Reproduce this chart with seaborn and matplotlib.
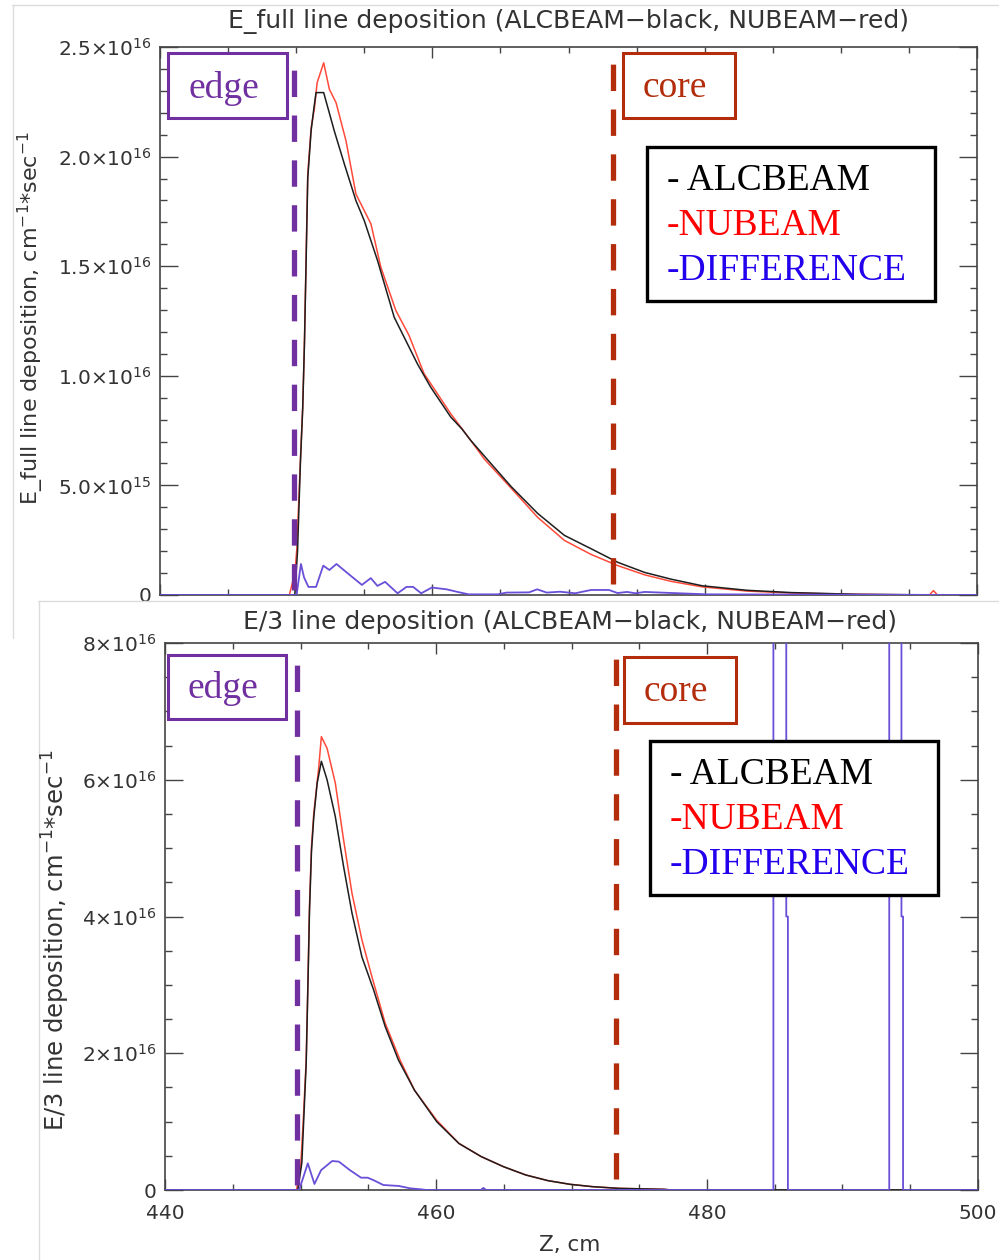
import numpy as np
import pandas as pd
import matplotlib
matplotlib.use("Agg")
import matplotlib.pyplot as plt
import seaborn as sns
from matplotlib import ticker
from matplotlib.patches import Rectangle
from matplotlib.lines import Line2D

# ---------------- data (values in units of 1e16 cm^-1 s^-1) ----------------
# Top panel: E_full
full_alc_z = [440, 449.9, 450.1, 450.31, 450.48, 450.61, 450.73, 450.85, 451.1, 451.3, 451.46,
              452.02, 452.8, 453.54, 454.39, 455.0, 455.98, 457.2, 458.9, 459.88, 461.35, 462.18,
              462.81, 463.82, 465.78, 467.74, 469.7, 471.66, 473.62, 475.59, 477.55, 479.83,
              483.1, 486.37, 491.27, 497.8]
full_alc_v = [0, 0, 0.2, 0.6, 0.85, 1.15, 1.52, 1.9, 2.12, 2.22, 2.292,
              2.292, 2.117, 1.966, 1.799, 1.708, 1.525, 1.267, 1.055, 0.948, 0.812, 0.757,
              0.706, 0.634, 0.495, 0.372, 0.272, 0.211, 0.149, 0.103, 0.072, 0.042,
              0.0215, 0.011, 0.003, 0.0]

full_nub_z = [440, 449.5, 449.9, 450.05, 450.31, 450.48, 450.61, 450.73, 450.85, 451.1, 451.34,
              451.54, 452.02, 452.44, 452.93, 453.66, 454.39, 455.49, 456.22, 457.32, 458.29,
              459.39, 461.35, 462.81, 463.82, 465.78, 467.74, 469.7, 471.66, 473.62, 475.59,
              477.55, 479.83, 483.1, 486.37, 491.27, 496.5, 496.8, 497.1, 497.8]
full_nub_v = [0, 0, 0.1, 0.21, 0.615, 0.857, 1.161, 1.54, 1.92, 2.13, 2.22,
              2.337, 2.428, 2.307, 2.246, 2.072, 1.829, 1.693, 1.495, 1.298, 1.184,
              1.01, 0.827, 0.706, 0.62, 0.488, 0.354, 0.249, 0.185, 0.134, 0.092,
              0.062, 0.037, 0.018, 0.009, 0.003, 0.0, 0.02, 0.0, 0.0]

full_dif_z = [440, 450.03, 450.35, 450.58, 450.9, 451.46, 451.99, 452.44, 452.96, 454.0, 454.83,
              455.48, 455.97, 456.53, 457.45, 458.1, 458.59, 459.18, 459.96, 461.04, 461.86,
              462.67, 464.8, 465.45, 467.1, 467.7, 468.4, 469.37, 470.5, 471.66, 472.97,
              473.6, 474.3, 474.9, 475.6, 476.8, 480.2, 500]
full_dif_v = [0, 0, 0.1415, 0.08, 0.037, 0.037, 0.134, 0.114, 0.1415, 0.088, 0.046,
              0.077, 0.0415, 0.06, 0.0077, 0.037, 0.037, 0.0077, 0.034, 0.026, 0.014,
              0.003, 0.003, 0.011, 0.012, 0.026, 0.011, 0.015, 0.008, 0.023, 0.023,
              0.009, 0.014, 0.008, 0.014, 0.011, 0.003, 0.0]

# Bottom panel: E/3
third_alc_z = [440, 449.8, 450.1, 450.42, 450.56, 450.66, 450.81, 450.98, 451.23, 451.54, 451.96,
               452.57, 453.18, 453.8, 454.53, 455.39, 456.25, 457.23, 458.41, 460.05, 461.69,
               463.34, 464.98, 466.62, 468.26, 469.9, 471.54, 473.5, 476.8, 477.4, 500]
third_alc_v = [0, 0, 0.4, 1.85, 3.1, 4.05, 4.95, 5.45, 5.95, 6.27, 6.0,
               5.46, 4.73, 4.05, 3.41, 2.93, 2.39, 1.90, 1.46, 1.0, 0.68,
               0.488, 0.341, 0.22, 0.137, 0.083, 0.049, 0.024, 0.01, 0.0, 0.0]

third_nub_z = [440, 449.7, 450.0, 450.2, 450.42, 450.56, 450.66, 450.81, 450.98, 451.35, 451.54,
               451.96, 452.57, 453.18, 453.8, 454.53, 455.27, 456.25, 457.35, 458.41, 460.05,
               461.69, 463.34, 464.98, 466.62, 468.26, 469.9, 471.54, 473.5, 476.8, 477.4]
third_nub_v = [0, 0, 0.3, 1.0, 1.90, 3.17, 4.14, 5.02, 5.51, 6.19, 6.63,
               6.46, 5.95, 5.12, 4.34, 3.66, 3.12, 2.44, 1.90, 1.46, 1.02,
               0.683, 0.488, 0.341, 0.22, 0.137, 0.083, 0.049, 0.024, 0.01, 0.0]

third_dif_z = [440, 449.9, 450.54, 451.03, 451.52, 452.34, 452.83, 453.65, 454.47, 454.96, 455.46,
               456.11, 457.26, 458.1, 458.9, 459.3, 463.3, 463.5, 463.7,
               484.9, 484.9, 485.85, 485.85, 485.97, 485.97,
               493.45, 493.45, 494.35, 494.35, 494.47, 494.47, 500]
third_dif_v = [0, 0, 0.39, 0.088, 0.29, 0.424, 0.415, 0.29, 0.18, 0.18, 0.137,
               0.073, 0.059, 0.024, 0.01, 0.0, 0.0, 0.03, 0.0,
               0.0, 30.0, 30.0, 4.0, 4.0, 0.0,
               0.0, 30.0, 30.0, 4.0, 4.0, 0.0, 0.0]

edge_z = [449.82, 449.72]
core_z = [473.3, 473.25]

top_yticks = [0, 0.5, 1.0, 1.5, 2.0, 2.5]
top_ylabels = ["0", "5.0×10$^{15}$", "1.0×10$^{16}$", "1.5×10$^{16}$", "2.0×10$^{16}$", "2.5×10$^{16}$"]
bot_yticks = [0, 2, 4, 6, 8]
bot_ylabels = ["0", "2×10$^{16}$", "4×10$^{16}$", "6×10$^{16}$", "8×10$^{16}$"]
xticks = [440, 460, 480, 500]
xlabels = ["440", "460", "480", "500"]

titles = ["E_full line deposition (ALCBEAM\u2212black, NUBEAM\u2212red)",
          "E/3 line deposition (ALCBEAM\u2212black, NUBEAM\u2212red)"]
ylabels = ["E_full line deposition, cm$^{-1}$*sec$^{-1}$",
           "E/3 line deposition, cm$^{-1}$*sec$^{-1}$"]
legend_items = ["- ALCBEAM", "-NUBEAM", "-DIFFERENCE"]

# ---------------- style ----------------
W, H = 999, 1260
sns.set_style("white")
plt.rcParams['font.family'] = ['DejaVu Sans']
plt.rcParams['mathtext.fontset'] = 'dejavusans'

AX = '#444444'
TXT = '#333333'
C_ALC = '#1e1e1e'
C_NUB = '#ff4a3a'
C_DIF = '#6a4fd8'
C_EDGE = '#7030a0'
C_CORE = '#b32d0c'

fig = plt.figure(figsize=(W / 100, H / 100), dpi=100)
fig.patch.set_facecolor('white')


def fx(px):
    return px / W


def fy(py):
    return 1 - py / H


def make_ax(l, t, r, b):
    return fig.add_axes([fx(l), fy(b), fx(r) - fx(l), (b - t) / H])


ax1 = make_ax(160, 47, 977, 595)
ax2 = make_ax(165, 643, 978, 1190)

scale = 1e16
panels = [
    (ax1, full_alc_z, full_alc_v, full_nub_z, full_nub_v, full_dif_z, full_dif_v,
     2.5, top_yticks, top_ylabels, 0.1, False),
    (ax2, third_alc_z, third_alc_v, third_nub_z, third_nub_v, third_dif_z, third_dif_v,
     8.0, bot_yticks, bot_ylabels, 0.5, True),
]

for i, (ax, az, av, nz, nv, dz, dv, ymax, yt, yl, yminor, showx) in enumerate(panels):
    df_a = pd.DataFrame({"z": az, "v": np.array(av) * scale})
    df_n = pd.DataFrame({"z": nz, "v": np.array(nv) * scale})
    df_d = pd.DataFrame({"z": dz, "v": np.array(dv) * scale})
    sns.lineplot(data=df_a, x="z", y="v", ax=ax, color=C_ALC, lw=1.1, sort=False, estimator=None, zorder=3)
    sns.lineplot(data=df_n, x="z", y="v", ax=ax, color=C_NUB, lw=1.1, sort=False, estimator=None, zorder=2)
    sns.lineplot(data=df_d, x="z", y="v", ax=ax, color=C_DIF, lw=1.3, sort=False, estimator=None, zorder=4)

    ax.set_xlim(440, 500)
    ax.set_ylim(0, ymax * scale)
    ax.set_xticks(xticks)
    ax.set_xticklabels(xlabels if showx else [])
    ax.xaxis.set_minor_locator(ticker.MultipleLocator(5))
    ax.set_yticks([t * scale for t in yt])
    ax.set_yticklabels(yl)
    ax.yaxis.set_minor_locator(ticker.MultipleLocator(yminor * scale))
    ax.set_xlabel("")
    ax.set_ylabel("")
    ax.tick_params(axis='both', which='both', direction='in',
                   top=True, right=True, bottom=True, left=True,
                   color=AX, width=1.0, labelcolor=TXT, labelsize=14.5)
    ax.tick_params(axis='x', which='major', length=8, pad=10)
    ax.tick_params(axis='x', which='minor', length=4)
    ax.tick_params(axis='y', which='major', length=13, pad=6)
    ax.tick_params(axis='y', which='minor', length=5)
    ax.tick_params(axis='x', labelbottom=showx)
    for s in ax.spines.values():
        s.set_color(AX)
        s.set_linewidth(1.2)

    # edge / core markers
    ax.axvline(edge_z[i], ymin=0.01, ymax=0.99, color=C_EDGE, lw=3.8,
               dashes=(5.0, 3.5), zorder=5)
    ax.axvline(core_z[i], ymin=0.02, ymax=0.99, color=C_CORE, lw=3.8,
               dashes=(5.0, 3.5), zorder=5)

# ---------------- screenshot frames ----------------
frame_c = '#dcdcdc'
fig.add_artist(Line2D([fx(12), fx(999)], [fy(5), fy(5)], color=frame_c, lw=1))
fig.add_artist(Line2D([fx(12.5), fx(12.5)], [fy(5), fy(638)], color=frame_c, lw=1))
fig.add_artist(Line2D([fx(38), fx(999)], [fy(601), fy(601)], color=frame_c, lw=1))
fig.add_artist(Line2D([fx(38.5), fx(38.5)], [fy(601), fy(1260)], color=frame_c, lw=1))

# ---------------- titles and labels ----------------
fig.text(fx(568), fy(22), titles[0], ha='center', va='center', fontsize=18, color=TXT)
fig.text(fx(570), fy(622), titles[1], ha='center', va='center', fontsize=18, color=TXT)
fig.text(fx(31), fy(318), ylabels[0], ha='center', va='center', rotation=90, fontsize=16, color=TXT)
fig.text(fx(56), fy(940), ylabels[1], ha='center', va='center', rotation=90, fontsize=17.5, color=TXT)
fig.text(fx(570), fy(1245), "Z, cm", ha='center', va='center', fontsize=15.5, color=TXT)


# ---------------- annotation boxes ----------------
def box(l, t, r, b, ec, lw=2.2):
    fig.add_artist(Rectangle((fx(l), fy(b)), fx(r) - fx(l), (b - t) / H,
                             transform=fig.transFigure, facecolor='white',
                             edgecolor=ec, lw=lw, zorder=10))


serif = ['Liberation Serif', 'DejaVu Serif']

box(168, 53, 287, 118, C_EDGE)
fig.text(fx(224), fy(88), "edge", ha='center', va='center', fontsize=27, color=C_EDGE, family=serif, zorder=11)
box(623, 53, 735, 118, C_CORE)
fig.text(fx(675), fy(88), "core", ha='center', va='center', fontsize=27, color=C_CORE, family=serif, zorder=11)

box(168, 655, 286, 719, C_EDGE)
fig.text(fx(223), fy(689), "edge", ha='center', va='center', fontsize=27, color=C_EDGE, family=serif, zorder=11)
box(624, 657, 736, 723, C_CORE)
fig.text(fx(676), fy(692), "core", ha='center', va='center', fontsize=27, color=C_CORE, family=serif, zorder=11)

leg_colors = ['#000000', '#ff0000', '#2200ee']
for (l, t, r, b, tx, ty0) in [(647, 147, 935, 301, 667, 181), (650, 741, 938, 895, 670, 775)]:
    box(l, t, r, b, '#000000', lw=2.4)
    for k, (lab, col) in enumerate(zip(legend_items, leg_colors)):
        fig.text(fx(tx), fy(ty0 + 45 * k), lab, ha='left', va='center', fontsize=27,
                 color=col, family=serif, zorder=11)

fig.savefig("out.png", dpi=100, facecolor='white')
